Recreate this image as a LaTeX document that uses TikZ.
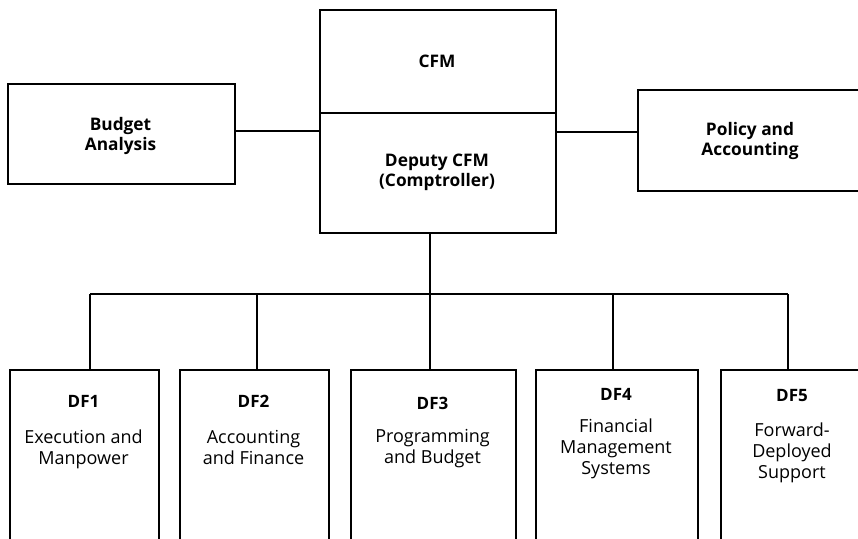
\documentclass[tikz,border=0pt]{standalone}
\usepackage{fontspec}
\setmainfont{Open Sans}
\begin{document}
\begin{tikzpicture}[x=1pt,y=-1pt,
  box/.style={draw,line width=1.5pt,inner sep=0pt,anchor=north west},
  bt/.style={font=\bfseries\fontsize{17.3}{20}\selectfont,align=center,anchor=base,inner sep=0pt},
  hd/.style={font=\bfseries\fontsize{17}{21}\selectfont,anchor=base,inner sep=0pt},
  tx/.style={font=\fontsize{18}{21}\selectfont,align=center,anchor=base,inner sep=0pt},
  ln/.style={line width=1.5pt}]
\useasboundingbox (0,0) rectangle (858,538);
\clip (0,0) rectangle (858,538);
% top boxes
\node[box,minimum width=236pt,minimum height=103pt] (cfm) at (319,9) {};
\node[box,minimum width=236pt,minimum height=120pt] (dep) at (319,112) {};
\node[box,minimum width=227pt,minimum height=100pt] (ba) at (7,83) {};
\node[box,minimum width=240pt,minimum height=101pt] (pa) at (637,89) {};
\node[bt] (tcfm) at (437,67) {CFM};
\node[bt] (tdep) at (437,186) {Deputy CFM\\(Comptroller)};
\node[bt] (tba) at (120.5,150) {Budget\\Analysis};
\node[bt] (tpa) at (750,155) {Policy and\\Accounting};
\draw[ln] (ba.east |- 0,131) -- (dep.west |- 0,131);
\draw[ln] (dep.east |- 0,132) -- (pa.west |- 0,132);
% bottom boxes
\node[box,minimum width=149pt,minimum height=190pt] (df1) at (9,369) {};
\node[box,minimum width=149pt,minimum height=190pt] (df2) at (179,369) {};
\node[box,minimum width=165pt,minimum height=190pt] (df3) at (350,369) {};
\node[box,minimum width=162pt,minimum height=190pt] (df4) at (535,369) {};
\node[box,minimum width=144pt,minimum height=190pt] (df5) at (720,369) {};
\node[hd] (h1) at (83.5,407) {DF1};
\node[tx] (t1) at (83.5,464) {Execution and\\Manpower};
\node[hd] (h2) at (253.5,407) {DF2};
\node[tx] (t2) at (253.5,464) {Accounting\\and Finance};
\node[hd] (h3) at (432.5,409) {DF3};
\node[tx] (t3) at (432.5,463) {Programming\\and Budget};
\node[hd] (h4) at (616,400) {DF4};
\node[tx] (t4) at (616,474) {Financial\\Management\\Systems};
\node[hd] (h5) at (792,401) {DF5};
\node[tx] (t5) at (792,478) {Forward-\\Deployed\\Support};
% bus
\coordinate (bus) at (430,294);
\coordinate (d1) at (90,294);
\coordinate (d2) at (257,294);
\coordinate (d4) at (613,294);
\coordinate (d5) at (788,294);
\draw[ln] (dep.south -| bus) -- (bus);
\draw[ln] (d1) -- (d5);
\draw[ln] (d1) -- (d1 |- df1.north);
\draw[ln] (d2) -- (d2 |- df2.north);
\draw[ln] (bus) -- (bus |- df3.north);
\draw[ln] (d4) -- (d4 |- df4.north);
\draw[ln] (d5) -- (d5 |- df5.north);
\end{tikzpicture}
\end{document}
